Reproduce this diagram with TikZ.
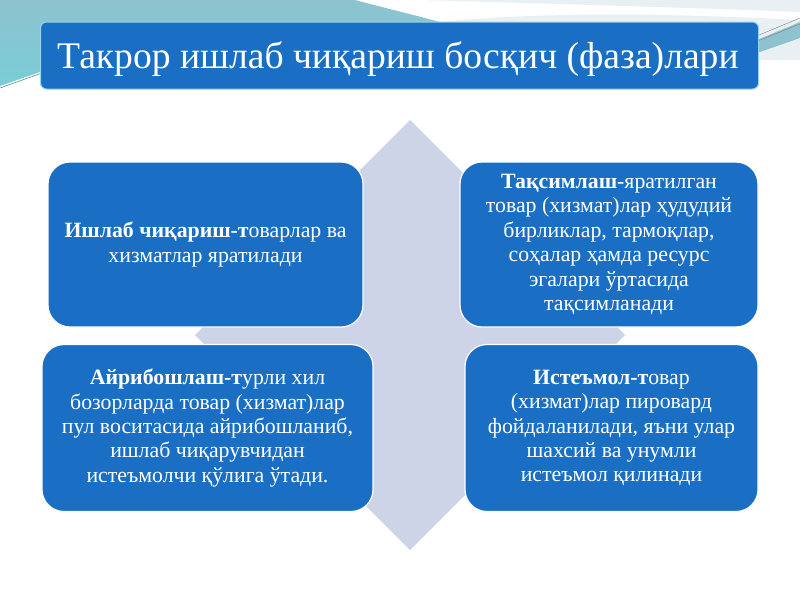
\documentclass[tikz,border=0pt]{standalone}
\usepackage{fontspec}
\setmainfont{Liberation Serif}
\usetikzlibrary{shadings}
\definecolor{boxblue}{RGB}{26,111,196}
\definecolor{diam}{RGB}{206,212,232}
\definecolor{teal1}{RGB}{142,194,207}
\definecolor{teal2}{RGB}{120,205,214}
\definecolor{pale}{RGB}{232,240,244}
\begin{document}
\begin{tikzpicture}[x=1pt,y=-1pt,
  phase/.style={draw=white,line width=1.2pt,fill=boxblue,rounded corners=22pt,text=white,
    align=center,font=\fontsize{21.8}{24.4}\selectfont},
  titlebox/.style={draw={rgb,255:red,150;green,210;blue,235},line width=1pt,fill=boxblue,rounded corners=6pt,text=white}]
\useasboundingbox (0,0) rectangle (800,600);
\fill[white] (0,0) rectangle (800,600);
% background swooshes
\shade[top color=teal1,bottom color=teal2] (0,0) -- (355,0) .. controls (385,8) and (410,14) .. (440,22) -- (440,60) -- (40,72) -- (0,86) -- cycle;
\draw[teal2!70!black,line width=0.6pt] (0,88) -- (42,73);
\fill[pale] (420,0) -- (800,0) -- (800,12) .. controls (700,8) and (560,4) .. (420,0) -- cycle;
\fill[pale] (440,22) .. controls (600,30) and (700,40) .. (760,60) -- (800,60) -- (800,20) .. controls (700,15) and (560,10) .. (440,22) -- cycle;
\fill[teal1] (745,45) -- (800,22) -- (800,38) -- (760,52) -- cycle;
\draw[gray,line width=0.4pt] (735,45) -- (800,18);
\draw[gray,line width=0.4pt] (740,48) -- (800,24);
% diamond
\fill[diam] (410,120) -- (625,335) -- (410,550) -- (195,335) -- cycle;
% title
\node[titlebox,minimum width=718pt,minimum height=67pt] (title) at (399.5,55.5) {};
\node[text=white,inner sep=0pt,font=\fontsize{37.6}{40}\selectfont,anchor=base west] (ttext) at (57,68) {Такрор ишлаб чиқариш босқич (фаза)лари};
% phase boxes
\node[phase,minimum width=315pt,minimum height=165pt] (prod) at (205.5,244.5) {\textbf{Ишлаб чиқариш-т}оварлар ва\\хизматлар яратилади};
\node[phase,minimum width=298pt,minimum height=165pt] (dist) at (609,244.5) {\textbf{Тақсимлаш}-яратилган\\товар (хизмат)лар ҳудудий\\бирликлар, тармоқлар,\\соҳалар ҳамда ресурс\\эгалари ўртасида\\тақсимланади};
\node[phase,minimum width=331pt,minimum height=167pt] (exch) at (207.5,428) {\textbf{Айрибошлаш-т}урли хил\\бозорларда товар (хизмат)лар\\пул воситасида айрибошланиб,\\ишлаб чиқарувчидан\\истеъмолчи қўлига ўтади.};
\node[phase,minimum width=293pt,minimum height=167pt] (cons) at (611.5,428) {\textbf{Истеъмол-т}овар\\(хизмат)лар пировард\\фойдаланилади, яъни улар\\шахсий ва унумли\\истеъмол қилинади};
\end{tikzpicture}
\end{document}
